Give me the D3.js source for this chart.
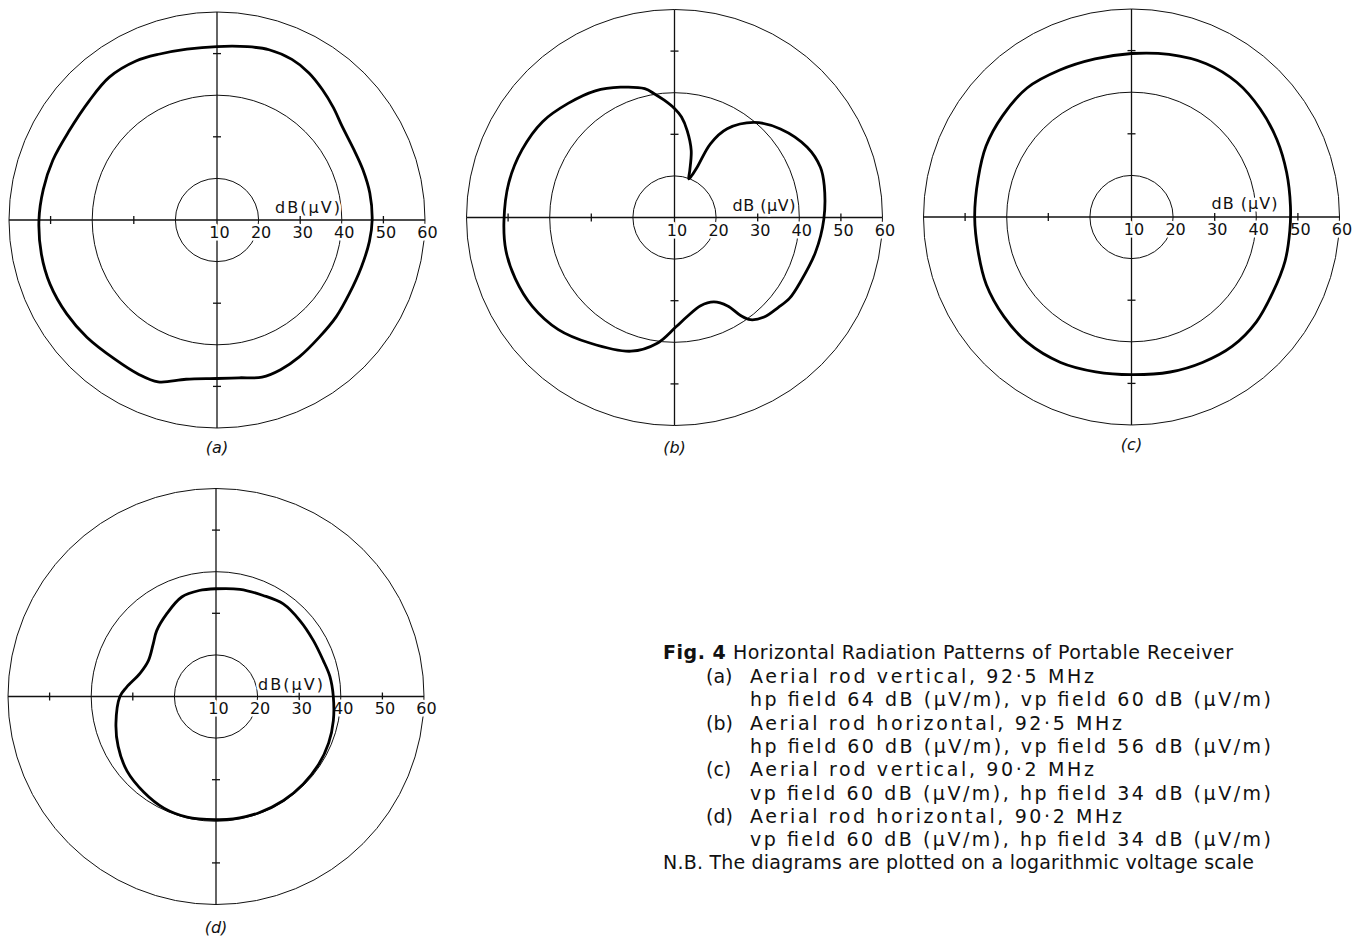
<!DOCTYPE html>
<html>
<head>
<meta charset="utf-8">
<script src="https://cdn.jsdelivr.net/npm/d3@7"></script>
<style>
  body { margin: 0; background: #fff; }
  svg { display: block; font-family: "DejaVu Sans", "Liberation Sans", sans-serif; }
  .ring { fill: none; stroke: #111; stroke-width: 1; }
  .axis { stroke: #111; stroke-width: 1.3; }
  .pattern { fill: none; stroke: #000; stroke-width: 2.8; stroke-linejoin: round; }
  .lbl { font-size: 16px; fill: #111; paint-order: stroke; stroke: #fff; stroke-width: 5px; stroke-linejoin: round; }
  .letter { font-size: 16px; font-style: italic; fill: #111; }
  .cap { font-size: 19px; fill: #111; }
</style>
</head>
<body>
<div id="chart"></div>
<script>
// bearing in degrees (clockwise from top) and received level in dB(uV)
const anglesA = [0, 10, 17, 25, 32, 39, 46, 53, 63, 71, 80, 90, 98, 108, 119, 129, 139, 149, 157, 164, 172, 180, 191, 200, 207, 216, 228, 238, 249, 259, 270, 280, 290, 301, 313, 323, 333, 341, 350];
const levelsA = [51.7, 52.3, 52.8, 52.6, 51.7, 50.3, 48.9, 47.6, 47.0, 47.1, 47.3, 47.3, 47.0, 46.5, 46.4, 46.9, 47.4, 48.4, 49.1, 49.3, 48.3, 48.1, 49.0, 51.4, 51.6, 51.5, 52.1, 52.6, 53.0, 53.0, 52.8, 52.4, 52.0, 51.5, 52.0, 53.0, 52.9, 52.2, 51.7];

const anglesB = [0, 4, 8.3, 14, 18, 20.3, 22.5, 24.3, 26, 30.7, 39.9, 50.1, 62.1, 71, 78, 90.6, 103.9, 117, 125, 131, 138, 143.4, 146, 149, 155, 163.5, 172.7, 179.5, 187.8, 198, 214, 226, 238, 249, 259, 269, 282, 294, 306, 317, 328, 337.5, 347, 351, 355];
const levelsB = [36.2, 34.2, 31.1, 26.6, 21.9, 19.9, 21.0, 23.3, 29.7, 34.8, 39.8, 43.2, 46.1, 47.1, 46.8, 45.9, 44.9, 44.0, 43.8, 43.0, 42.2, 40.6, 38.4, 34.8, 32.4, 32.1, 34.0, 36.4, 40.5, 43.8, 46.4, 48.8, 50.3, 51.0, 51.3, 51.0, 50.7, 50.1, 49.2, 47.5, 45.9, 43.9, 41.8, 40.0, 38.3];

const anglesC = [0, 13, 26, 38, 50, 62, 74, 86, 95, 106, 118, 130, 142, 154, 166, 180, 193, 206, 220, 232, 245, 257, 270, 284, 296, 308, 321, 334, 347];
const levelsC = [49.3, 50.1, 51.0, 51.1, 50.4, 49.6, 48.8, 48.3, 48.2, 48.4, 48.5, 49.2, 49.4, 48.9, 48.4, 47.9, 48.2, 48.9, 49.2, 48.9, 48.5, 47.8, 47.7, 48.0, 48.9, 49.4, 49.9, 49.3, 49.0];

const anglesD = [0, 12.6, 25, 36, 48, 60, 71.5, 80, 90, 101.6, 112.5, 124, 135, 147, 160, 172, 180, 193.5, 205, 217, 230, 243, 255, 270, 276, 287, 298, 310, 318, 329, 341, 351];
const levelsD = [35.9, 36.4, 36.8, 37.5, 37.2, 37.0, 37.2, 37.8, 38.2, 38.8, 39.3, 39.6, 39.7, 39.8, 39.8, 39.7, 39.6, 39.8, 39.6, 38.8, 37.9, 36.4, 34.9, 33.1, 31.6, 29.1, 28.4, 29.7, 31.3, 33.1, 35.3, 35.8];

const ringValues = [20, 40, 60];
const tickValues = [30, 50];
const scaleValues = [10, 20, 30, 40, 50, 60];
const scaleLabels = ["10", "20", "30", "40", "50", "60"];
const panelLetters = ["(a)", "(b)", "(c)", "(d)"];
const unitLabels = ["dB(μV)", "dB (μV)", "dB (μV)", "dB(μV)"];

const captionTitle = "Horizontal Radiation Patterns of Portable Receiver";
const captionItems = ["(a)", "(b)", "(c)", "(d)"];
const captionHeads = [
  "Aerial rod vertical, 92·5 MHz",
  "Aerial rod horizontal, 92·5 MHz",
  "Aerial rod vertical, 90·2 MHz",
  "Aerial rod horizontal, 90·2 MHz"
];
const captionFields = [
  "hp field 64 dB (μV/m), vp field 60 dB (μV/m)",
  "hp field 60 dB (μV/m), vp field 56 dB (μV/m)",
  "vp field 60 dB (μV/m), hp field 34 dB (μV/m)",
  "vp field 60 dB (μV/m), hp field 34 dB (μV/m)"
];
const captionNote = "N.B. The diagrams are plotted on a logarithmic voltage scale";

const width = 1364, height = 938;
const R = 208;

const svg = d3.select("#chart").append("svg")
  .attr("width", width).attr("height", height);

const rScale = d3.scaleLinear().domain([10, 60]).range([0, R]);

const panels = [
  { cx: 217, cy: 220, unitDx: 58, unitW: 65, angles: anglesA, levels: levelsA, letterY: 453 },
  { cx: 674.5, cy: 217.5, unitDx: 58, unitW: 63, angles: anglesB, levels: levelsB, letterY: 453 },
  { cx: 1131.5, cy: 217, unitDx: 80, unitW: 66, angles: anglesC, levels: levelsC, letterY: 450 },
  { cx: 216, cy: 696.5, unitDx: 42, unitW: 65, angles: anglesD, levels: levelsD, letterY: 933 }
];

const line = d3.lineRadial()
  .angle(d => d[0] * Math.PI / 180)
  .radius(d => rScale(d[1]))
  .curve(d3.curveCatmullRomClosed.alpha(0.5));

panels.forEach((p, i) => {
  const g = svg.append("g").attr("transform", `translate(${p.cx},${p.cy})`);

  g.selectAll(".ring").data(ringValues).join("circle")
    .attr("class", "ring")
    .attr("r", d => rScale(d));

  // cross axes
  g.append("line").attr("class", "axis")
    .attr("x1", -R).attr("x2", R).attr("y1", 0).attr("y2", 0);
  g.append("line").attr("class", "axis")
    .attr("x1", 0).attr("x2", 0).attr("y1", -R).attr("y2", R);

  const ticks = tickValues.flatMap(v => [rScale(v), -rScale(v)]);
  g.selectAll(".htick").data(ticks).join("line")
    .attr("class", "axis")
    .attr("x1", d => d).attr("x2", d => d).attr("y1", -4).attr("y2", 4);
  g.selectAll(".vtick").data(ticks).join("line")
    .attr("class", "axis")
    .attr("y1", d => d).attr("y2", d => d).attr("x1", -4).attr("x2", 4);

  g.selectAll(".scale").data(scaleValues).join("text")
    .attr("class", "lbl")
    .attr("x", d => rScale(d) + 2.5)
    .attr("y", i === 3 ? 17.5 : 18)
    .attr("text-anchor", "middle")
    .text((d, k) => scaleLabels[k]);

  g.append("text").attr("class", "lbl")
    .attr("x", p.unitDx).attr("y", i === 2 ? -8 : -7)
    .attr("textLength", p.unitW)
    .text(unitLabels[i]);

  const pts = p.angles.map((a, k) => [a, p.levels[k]]);
  g.append("path").attr("class", "pattern").attr("d", line(pts));

  svg.append("text").attr("class", "letter")
    .attr("x", p.cx).attr("y", p.letterY)
    .attr("text-anchor", "middle")
    .text(panelLetters[i]);
});

// caption block
const cap = svg.append("g");
const t1 = cap.append("text").attr("class", "cap")
  .attr("x", 663).attr("y", 659).attr("textLength", 570);
t1.append("tspan").attr("font-weight", "bold").text("Fig. 4");
t1.append("tspan").text("  " + captionTitle);

const rowH = 23.3;
captionItems.forEach((item, k) => {
  const y0 = 683 + k * 2 * rowH;
  cap.append("text").attr("class", "cap").attr("x", 706).attr("y", y0).text(item);
  cap.append("text").attr("class", "cap").attr("x", 750).attr("y", y0)
    .attr("textLength", k % 2 ? 372 : 344).text(captionHeads[k]);
  cap.append("text").attr("class", "cap").attr("x", 750).attr("y", y0 + rowH)
    .attr("textLength", 521).text(captionFields[k]);
});
cap.append("text").attr("class", "cap")
  .attr("x", 663).attr("y", 869).attr("textLength", 591).text(captionNote);
</script>
</body>
</html>
